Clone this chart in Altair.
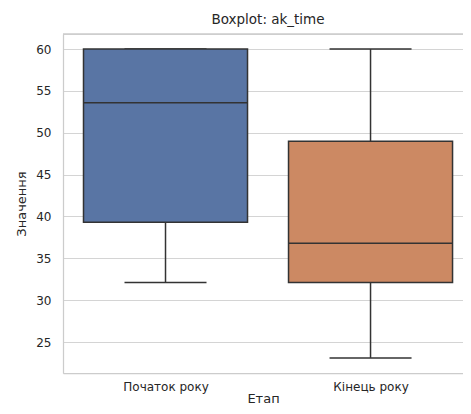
import json
import altair as alt
import pandas as pd

# ---- data ----
categories = ["Початок року", "Кінець року"]
mins = [32.1, 23.1]
q1s = [39.3, 32.1]
medians = [53.6, 36.8]
q3s = [60.0, 49.0]
maxs = [60.0, 60.0]
colors = ["#5975A4", "#CC8963"]

df = pd.DataFrame({
    "cat": categories,
    "idx": list(range(len(categories))),
    "lo": mins, "q1": q1s, "med": medians, "q3": q3s, "hi": maxs,
})

label_expr = " : ".join(
    f"datum.value == {i} ? {json.dumps(c, ensure_ascii=False)}" for i, c in enumerate(categories[:-1])
) + f" : {json.dumps(categories[-1], ensure_ascii=False)}"

FONT = "DejaVu Sans"
TXT = "#262626"
EDGE = "#333333"
SPINE = "#cccccc"
W, H = 400, 339

x_scale = alt.Scale(domain=[-0.5, 1.451], nice=False, zero=False)
y_scale = alt.Scale(domain=[21.3, 61.8], nice=False, zero=False)

x_axis = alt.Axis(
    values=[0, 1], labelExpr=label_expr, grid=False, ticks=False,
    domain=True, domainColor=SPINE, domainWidth=1.25,
    labelFontSize=12, labelColor=TXT, labelFont=FONT, labelPadding=8,
    title="Етап", titleFontSize=13, titleFontWeight="normal", titleColor=TXT,
    titleFont=FONT, titleY=29, titleBaseline="alphabetic",
)
y_axis = alt.Axis(
    values=[25, 30, 35, 40, 45, 50, 55, 60], grid=True, gridColor="#d4d4d4",
    gridWidth=1, ticks=False, domain=True, domainColor=SPINE, domainWidth=1.25,
    labelFontSize=12, labelColor=TXT, labelFont=FONT, labelPadding=12,
    title="Значення", titleFontSize=13, titleFontWeight="normal", titleColor=TXT,
    titleFont=FONT, titleX=-42, titleY=H / 2, titleAngle=-90,
    titleBaseline="middle", titleAlign="center",
)

base = alt.Chart(df).transform_calculate(
    bl="datum.idx - 0.4", br="datum.idx + 0.4",
    cl="datum.idx - 0.2", cr="datum.idx + 0.2",
)

whisk_lo = base.mark_rule(color=EDGE, strokeWidth=1.5).encode(
    x=alt.X("idx:Q", scale=x_scale, axis=x_axis),
    y=alt.Y("lo:Q", scale=y_scale, axis=y_axis),
    y2="q1:Q",
)
whisk_hi = base.mark_rule(color=EDGE, strokeWidth=1.5).encode(
    x=alt.X("idx:Q", scale=x_scale), y=alt.Y("q3:Q", scale=y_scale), y2="hi:Q",
)
cap_lo = base.mark_rule(color=EDGE, strokeWidth=1.5).encode(
    x=alt.X("cl:Q", scale=x_scale), x2="cr:Q", y=alt.Y("lo:Q", scale=y_scale),
)
cap_hi = base.mark_rule(color=EDGE, strokeWidth=1.5).encode(
    x=alt.X("cl:Q", scale=x_scale), x2="cr:Q", y=alt.Y("hi:Q", scale=y_scale),
)
boxes = base.mark_rect(stroke=EDGE, strokeWidth=1.5).encode(
    x=alt.X("bl:Q", scale=x_scale), x2="br:Q",
    y=alt.Y("q1:Q", scale=y_scale), y2="q3:Q",
    fill=alt.Fill("cat:N", scale=alt.Scale(domain=categories, range=colors), legend=None),
)
meds = base.mark_rule(color=EDGE, strokeWidth=1.5).encode(
    x=alt.X("bl:Q", scale=x_scale), x2="br:Q", y=alt.Y("med:Q", scale=y_scale),
)
# top spine of the frame
top_spine = alt.Chart(df).mark_rule(color=SPINE, strokeWidth=1.25).encode(
    x=alt.value(0), x2=alt.value(W), y=alt.value(0),
)

chart = alt.layer(top_spine, whisk_lo, whisk_hi, cap_lo, cap_hi, boxes, meds).properties(
    width=W, height=H,
    title=alt.TitleParams("Boxplot: ak_time", fontSize=13.5, fontWeight="normal",
                          color=TXT, font=FONT, anchor="middle", dx=5, offset=7),
    autosize=alt.AutoSizeParams(type="none"),
    padding={"left": 55, "top": 26, "right": 0, "bottom": 33},
).configure_view(
    stroke=None,
).configure(background="white")

chart.save("out.html", embed_options={"renderer": "svg", "actions": False})
